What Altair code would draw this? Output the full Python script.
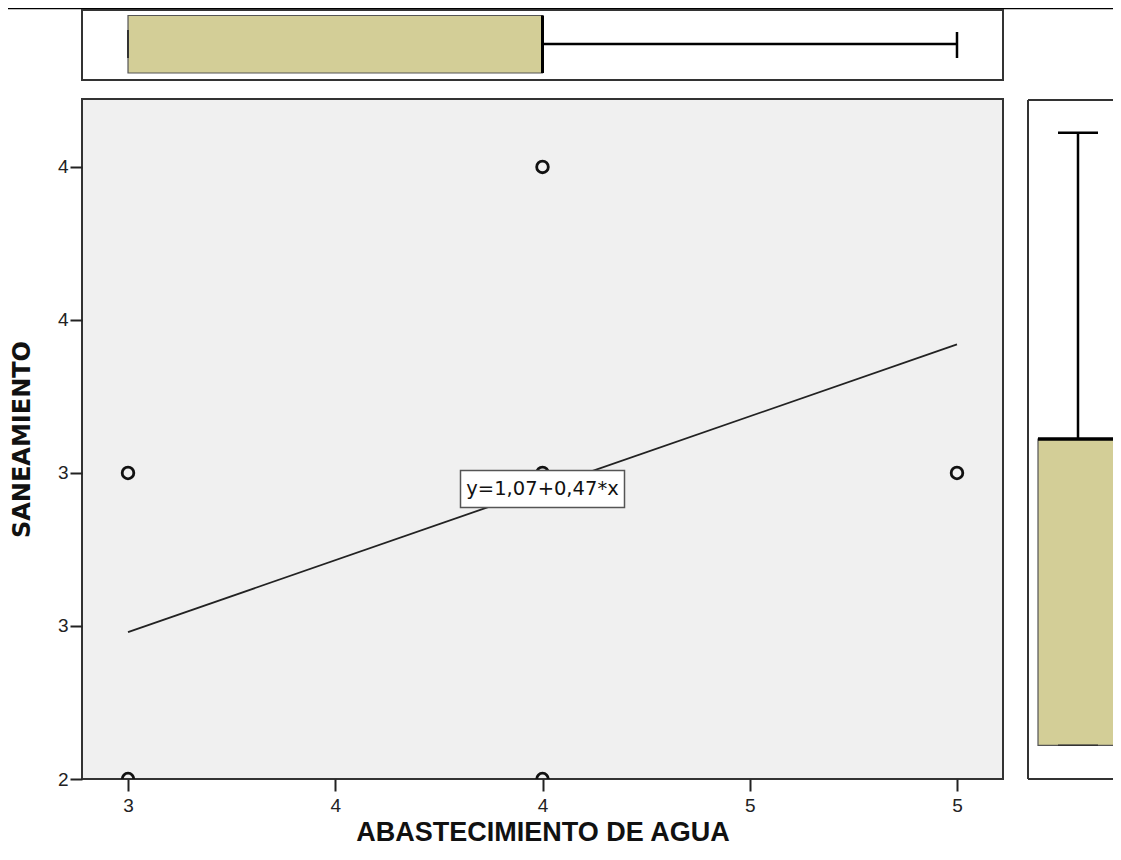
import altair as alt
import pandas as pd

# ---- data ----
water = [3, 3, 4, 4, 4, 5]          # ABASTECIMIENTO DE AGUA
sanit = [3, 2, 4, 3, 2, 3]          # SANEAMIENTO

stat_names = ["min", "q1", "median", "q3", "max"]
water_stats = [3, 3, 4, 4, 5]
sanit_stats = [2, 2, 3, 3, 4]

intercept = 1.07
slope = 0.47
line_x = [3, 5]
eq_label = "y=1,07+0,47*x"
eq_pos_x = [4.0]
eq_pos_y = [2.948]

x_ticks = [3, 3.5, 4, 4.5, 5]
y_ticks = [2, 2.5, 3, 3.5, 4]
x_domain = [2.889, 5.111]
y_domain = [2.0, 4.222]
y_box_domain = [1.89, 4.11]

BOX_FILL = "#D3CE97"
FRAME = "#333333"
W, H = 921, 680

pts = pd.DataFrame({"x": water, "y": sanit})
line_df = pd.DataFrame({"x": line_x})
lab_df = pd.DataFrame({"x": eq_pos_x, "y": eq_pos_y, "t": [eq_label]})
xs = pd.DataFrame([dict(zip(stat_names, water_stats))])
ys = pd.DataFrame([dict(zip(stat_names, sanit_stats))])
one = pd.DataFrame({"k": [0]})

X_SCALE = alt.Scale(domain=x_domain, nice=False, zero=False)
Y_SCALE = alt.Scale(domain=y_domain, nice=False, zero=False)
Y2_SCALE = alt.Scale(domain=y_box_domain, nice=False, zero=False)

X_AXIS = alt.Axis(values=x_ticks, labelExpr="format(round(datum.value), 'd')",
                  title="ABASTECIMIENTO DE AGUA", grid=False, domain=False,
                  tickSize=12, tickWidth=2, tickColor="#222",
                  labelFont="Liberation Sans", labelFontSize=19, labelColor="#222",
                  labelPadding=5, labelFlush=False,
                  titleFont="Liberation Sans", titleFontSize=27, titleFontWeight="bold",
                  titleColor="#111", titlePadding=4)
Y_AXIS = alt.Axis(values=y_ticks, labelExpr="format(round(datum.value), 'd')",
                  title="SANEAMIENTO", grid=False, domain=False,
                  tickSize=12, tickWidth=2, tickColor="#222",
                  labelFont="Liberation Sans", labelFontSize=19, labelColor="#222",
                  labelPadding=2, labelFlush=False,
                  titleFont="DejaVu Sans", titleFontSize=24, titleFontWeight="bold",
                  titleColor="#111", titlePadding=23)

XE = alt.X("x:Q", scale=X_SCALE, axis=X_AXIS)
YE = alt.Y("y:Q", scale=Y_SCALE, axis=Y_AXIS)

# ---- main scatter panel ----
points = alt.Chart(pts).mark_point(shape="circle", filled=False, size=135,
                                   strokeWidth=2.8, color="#111", opacity=1,
                                   clip=True).encode(x=XE, y=YE)

reg = alt.Chart(line_df).transform_calculate(
    y=f"{intercept} + {slope} * datum.x"
).mark_line(color="#222", strokeWidth=1.8).encode(x=XE, y=YE)

lab_box = alt.Chart(lab_df).mark_rect(
    fill="white", stroke="#555", strokeWidth=1.5,
    xOffset=-82, x2Offset=82, yOffset=18.5, y2Offset=-18.5
).encode(x=XE, x2=alt.X2("x"), y=YE, y2=alt.Y2("y"))

lab_txt = alt.Chart(lab_df).mark_text(
    font="DejaVu Sans", fontSize=19.5, color="#111", align="center", baseline="middle"
).encode(x=XE, y=YE, text="t:N")

# ---- top boxplot panel (shares the x scale) ----
top_frame = alt.Chart(one).mark_rect(fill="white", stroke=FRAME, strokeWidth=2).encode(
    x=alt.value(0), x2=alt.value(W), y=alt.value(-89), y2=alt.value(-19))
top_line = alt.Chart(one).mark_rule(color="#000", strokeWidth=1.5).encode(
    x=alt.value(-90), x2=alt.value(1050), y=alt.value(-90.5))
tb = alt.Chart(xs).mark_rect(fill=BOX_FILL, stroke="#555", strokeWidth=1.2).encode(
    x=alt.X("q1:Q", scale=X_SCALE, axis=X_AXIS), x2="q3:Q",
    y=alt.value(-83.5), y2=alt.value(-26))
tmed = alt.Chart(xs).mark_rule(color="#000", strokeWidth=3).encode(
    x=alt.X("median:Q", scale=X_SCALE, axis=X_AXIS), y=alt.value(-83.5), y2=alt.value(-26))
twh = alt.Chart(xs).mark_rule(color="#000", strokeWidth=2.5).encode(
    x=alt.X("q3:Q", scale=X_SCALE, axis=X_AXIS), x2="max:Q", y=alt.value(-55))
tcap = alt.Chart(xs).mark_rule(color="#000", strokeWidth=2.5).encode(
    x=alt.X("max:Q", scale=X_SCALE, axis=X_AXIS), y=alt.value(-67), y2=alt.value(-41))
tmin = alt.Chart(xs).mark_rule(color="#333", strokeWidth=2).encode(
    x=alt.X("min:Q", scale=X_SCALE, axis=X_AXIS), y=alt.value(-69), y2=alt.value(-41))

# ---- right panel frame (open on the right like the cropped original) ----
RX0 = W + 25
rf_left = alt.Chart(one).mark_rule(color=FRAME, strokeWidth=2).encode(
    x=alt.value(RX0), y=alt.value(1), y2=alt.value(H))
rf_top = alt.Chart(one).mark_rule(color=FRAME, strokeWidth=2).encode(
    x=alt.value(RX0), x2=alt.value(RX0 + 120), y=alt.value(1))
rf_bot = alt.Chart(one).mark_rule(color=FRAME, strokeWidth=2).encode(
    x=alt.value(RX0), x2=alt.value(RX0 + 120), y=alt.value(H))

main = alt.layer(top_line, top_frame, tb, tmed, twh, tcap, tmin,
                 rf_left, rf_top, rf_bot,
                 reg, points, lab_box, lab_txt)

# ---- right boxplot (own y scale) ----
YB = lambda f: alt.Y(f"{f}:Q", scale=Y2_SCALE, axis=None)
rb = alt.Chart(ys).mark_rect(fill=BOX_FILL, stroke="#555", strokeWidth=1.2).encode(
    x=alt.value(RX0 + 10), x2=alt.value(RX0 + 88), y=YB("q1"), y2="q3:Q")
rmed = alt.Chart(ys).mark_rule(color="#000", strokeWidth=3.5).encode(
    x=alt.value(RX0 + 10), x2=alt.value(RX0 + 88), y=YB("median"))
rwh = alt.Chart(ys).mark_rule(color="#000", strokeWidth=2.5).encode(
    x=alt.value(RX0 + 50), y=YB("q3"), y2="max:Q")
rcap = alt.Chart(ys).mark_rule(color="#000", strokeWidth=2.5).encode(
    x=alt.value(RX0 + 30), x2=alt.value(RX0 + 70), y=YB("max"))
rmin = alt.Chart(ys).mark_rule(color="#333", strokeWidth=1.5).encode(
    x=alt.value(RX0 + 30), x2=alt.value(RX0 + 70), y=YB("min"))
right = alt.layer(rb, rmed, rwh, rcap, rmin)

chart = alt.layer(main, right).resolve_scale(y="independent").properties(
    width=W, height=H,
    padding={"left": 74, "top": 91, "right": 110, "bottom": 69},
    autosize=alt.AutoSizeParams(type="none"),
    background="white",
).configure_view(fill="#F0F0F0", stroke=FRAME, strokeWidth=2)

chart.save("out.html", embed_options={"renderer": "svg", "actions": False})
